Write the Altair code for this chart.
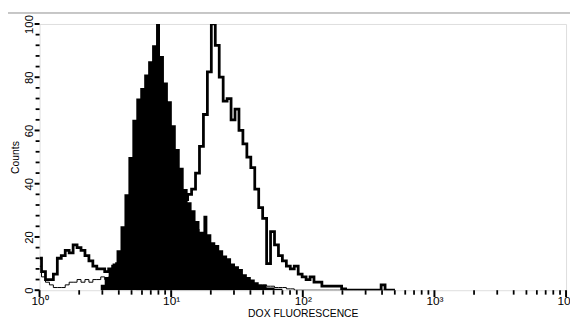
import altair as alt
import pandas as pd

# log10 channel grid (fluorescence channels on a 4-decade log scale)
LOG_STEP = 0.03

# Thick outlined histogram (shifted population)
thick = [12, 7, 4, 4, 6, 12, 13, 15, 14, 17, 16, 15, 13, 11, 9, 8, 8, 7, 8, 9,
         10, 11, 12, 13, 14, 15, 16, 17, 18, 19, 20, 22, 24, 26, 28, 30, 32, 34, 36, 38,
         44, 54, 66, 82, 100, 92, 80, 71, 72, 64, 68, 60, 55, 50, 46, 38, 31, 27, 10, 22,
         17, 13, 11, 9, 8, 9, 6, 5, 4, 5, 3, 3, 1.5, 1.5, 1.5, 1.5, 1.5, 0.5, 0, 0,
         0, 0, 0, 0, 0, 0, 0, 2, 0, 0, 0]

# Solid black histogram (main population)
main = [0, 0, 0, 0, 0, 0, 0, 0, 0, 0, 0, 0, 0, 0, 0, 0, 2, 5, 8, 10,
        15, 24, 36, 50, 64, 72, 76, 81, 86, 92, 100, 88, 78, 71, 62, 53, 46, 38, 33, 30,
        26, 18, 14, 10, 8, 6, 4, 3, 2, 1, 0, 0, 0, 0, 0, 0, 0, 0, 0, 0,
        0, 0, 0, 0, 0, 0, 0, 0, 0, 0, 0, 0, 0, 0, 0, 0, 0, 0, 0, 0,
        0, 0, 0, 0, 0, 0, 0, 0, 0, 0, 0]

# Second filled histogram (smaller population)
second = [0, 0, 0, 0, 0, 0, 0, 0, 0, 0, 0, 0, 0, 0, 0, 0, 0, 0, 0, 0,
          0, 0, 0, 0, 0, 2, 3, 4, 5, 6, 7, 9, 11, 13, 15, 17, 19, 20, 22, 21,
          23, 22, 28, 21, 18, 17, 15, 13, 12, 10, 9, 8, 6, 5, 4, 3, 2, 2, 1, 1,
          0.5, 0.5, 0, 0, 0, 0, 0, 0, 0, 0, 0, 0, 0, 0, 0, 0, 0, 0, 0, 0,
          0, 0, 0, 0, 0, 0, 0, 0, 0, 0, 0]

# Thin low histogram near the baseline
thin = [9, 5, 3, 2, 1, 1, 1, 2, 3, 3, 4, 3, 4, 3, 4, 4, 5, 4, 5, 5,
        6, 6, 6, 7, 7, 7, 8, 8, 8, 9, 9, 9, 9, 9, 8, 8, 8, 7, 7, 6,
        6, 5, 5, 5, 4, 4, 4, 4, 3, 3, 3, 3, 3, 2, 2, 2, 2, 2, 1.5, 1.5,
        1, 1, 1, 0.5, 0.5, 0, 0, 0, 0, 0, 0, 0, 0, 0, 0, 0, 0, 0, 0, 0,
        0, 0, 0, 0, 0, 0, 0, 0, 0, 0, 0]

x_major = [1, 10, 100, 1000, 10000]
x_minor = [2, 3, 4, 5, 6, 7, 8, 9,
           20, 30, 40, 50, 60, 70, 80, 90,
           200, 300, 400, 500, 600, 700, 800, 900,
           2000, 3000, 4000, 5000, 6000, 7000, 8000, 9000]
y_major = [0, 20, 40, 60, 80, 100]
y_minor = [4, 8, 12, 16, 24, 28, 32, 36, 44, 48, 52, 56, 64, 68, 72, 76, 84, 88, 92, 96]

n = len(thick)
log_ch = [round(i * LOG_STEP, 4) for i in range(n)]


def frame(name, vals):
    return pd.DataFrame({"fl": [10 ** v for v in log_ch], "count": vals, "series": name})


df = pd.concat([frame("thin", thin), frame("thick", thick),
                frame("main", main), frame("second", second)], ignore_index=True)

label_x = ("datum.value == 1 ? '10⁰' : datum.value == 10 ? '10¹' : datum.value == 100 ? '10²' : "
           "datum.value == 1000 ? '10³' : datum.value == 10000 ? '10⁴' : ''")

x_scale = alt.Scale(type="log", domain=[1, 10000], nice=False)
y_scale = alt.Scale(domain=[0, 100], nice=False)

x_enc = alt.X("fl:Q", scale=x_scale,
              axis=alt.Axis(values=x_major, labelExpr=label_x, title="DOX FLUORESCENCE",
                            ticks=False, labelOverlap=False, labelFlush=False, domain=False, grid=False,
                            labelColor="black", titleColor="black",
                            labelFontSize=12, labelPadding=6, titleFontSize=10.5,
                            titleFontWeight="normal", titleBaseline="alphabetic", titleY=26.5))
y_enc = alt.Y("count:Q", scale=y_scale,
              axis=alt.Axis(values=y_major, title="Counts", ticks=False,
                            labelAngle=-90, labelAlign="center", labelBaseline="bottom",
                            labelOverlap=False, labelFlush=False, domain=False, grid=False,
                            labelColor="black", titleColor="black",
                            labelFontSize=11.5, labelPadding=5, titleFontSize=10.5,
                            titleFontWeight="normal", titlePadding=3))

base = alt.Chart(df)
thin_layer = base.transform_filter("datum.series == 'thin'").mark_line(
    interpolate="step", color="black", strokeWidth=1, clip=True).encode(x=x_enc, y=y_enc)
thick_layer = base.transform_filter("datum.series == 'thick'").mark_line(
    interpolate="step", color="black", strokeWidth=2.8, clip=True).encode(x=x_enc, y=y_enc)
main_layer = base.transform_filter("datum.series == 'main'").mark_area(
    interpolate="step", color="black", clip=True).encode(x=x_enc, y=y_enc)
second_layer = base.transform_filter("datum.series == 'second'").mark_area(
    interpolate="step", color="black", clip=True).encode(x=x_enc, y=y_enc)

# axis tick marks drawn through the same scales
xmaj = alt.Chart(pd.DataFrame({"fl": x_major})).mark_rule(
    color="black", strokeWidth=2, clip=False).encode(
    x=alt.X("fl:Q", scale=x_scale), y=alt.value(270), y2=alt.value(277))
xmin = alt.Chart(pd.DataFrame({"fl": x_minor})).mark_rule(
    color="black", strokeWidth=1.8, clip=False).encode(
    x=alt.X("fl:Q", scale=x_scale), y=alt.value(270), y2=alt.value(274.5))
ymaj = alt.Chart(pd.DataFrame({"count": y_major})).mark_rule(
    color="black", strokeWidth=2, clip=False).encode(
    y=alt.Y("count:Q", scale=y_scale), x=alt.value(-5), x2=alt.value(0))
ymin = alt.Chart(pd.DataFrame({"count": y_minor})).mark_rule(
    color="black", strokeWidth=1.8, clip=False).encode(
    y=alt.Y("count:Q", scale=y_scale), x=alt.value(-4), x2=alt.value(0))

# light grey scan frame around the figure (decoration)
frame_top = alt.Chart(df).mark_rule(color="#c8c8c8", strokeWidth=1, clip=False).encode(
    x=alt.value(-33), x2=alt.value(540), y=alt.value(-11))
frame_left = alt.Chart(df).mark_rule(color="#c8c8c8", strokeWidth=1, clip=False).encode(
    x=alt.value(-33), y=alt.value(-11), y2=alt.value(300))

chart = alt.layer(thin_layer, thick_layer, main_layer, second_layer,
                  xmaj, xmin, ymaj, ymin, frame_top, frame_left).properties(
    width=534, height=270,
    autosize=alt.AutoSizeParams(type="none"),
    padding={"left": 32, "top": 14, "right": 4, "bottom": 27},
).configure_view(stroke="black", strokeWidth=2).configure(
    font="Liberation Sans", background="white")

chart.save("out.html", embed_options={"renderer": "svg", "actions": False})
